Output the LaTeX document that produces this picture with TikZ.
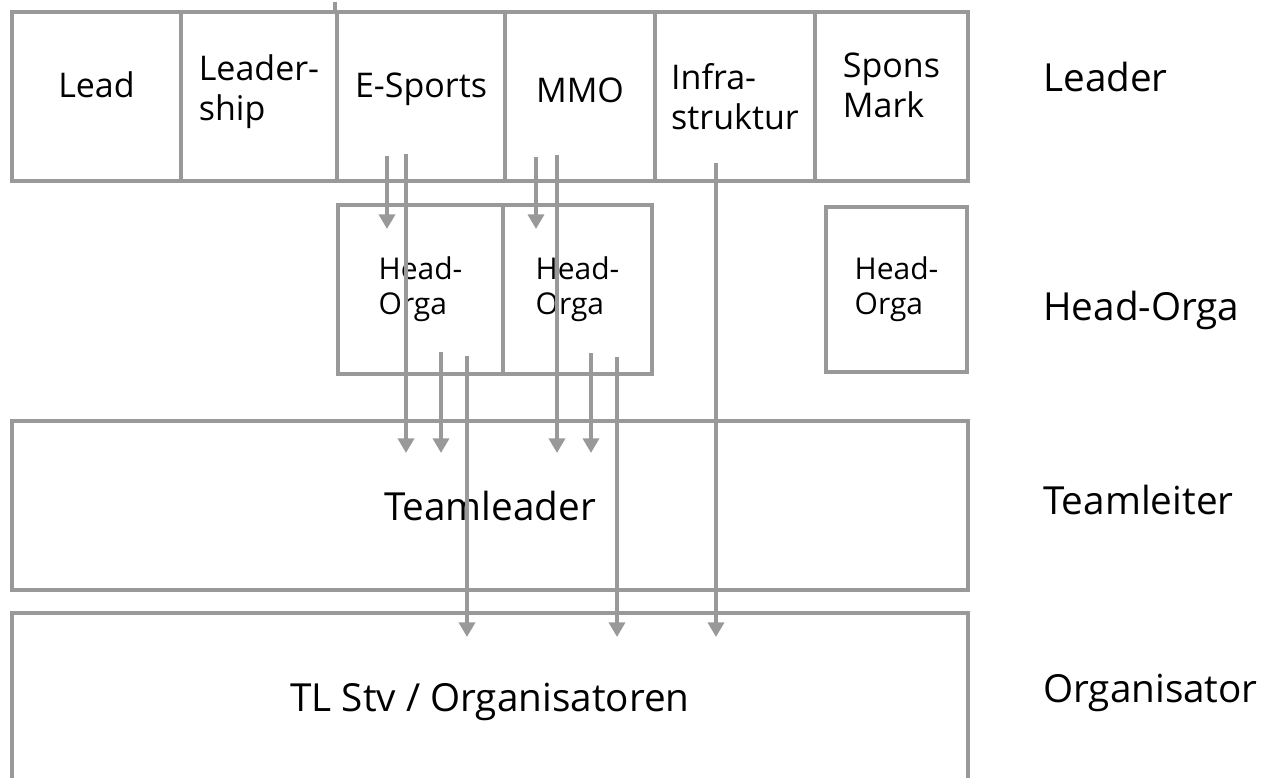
\documentclass[tikz,border=0pt]{standalone}
\usepackage{fontspec}
\setmainfont{Open Sans}
\usetikzlibrary{arrows.meta}
\definecolor{framegray}{RGB}{153,153,153}

\begin{document}
\begin{tikzpicture}[
  x=0.75pt, y=-0.75pt,
  box/.style={draw=framegray,line width=3pt,inner sep=0pt,align=left},
  cell/.style 2 args={box,minimum width=#1*0.75pt,minimum height=#2*0.75pt,font=\fontsize{25.5}{30}\selectfont},
  hobox/.style 2 args={box,minimum width=#1*0.75pt,minimum height=#2*0.75pt,font=\fontsize{22.5}{26}\selectfont},
  tier/.style 2 args={box,minimum width=#1*0.75pt,minimum height=#2*0.75pt,font=\fontsize{29}{34}\selectfont},
  level/.style={anchor=west,inner sep=0pt,font=\fontsize{29}{34}\selectfont},
  flow/.style={draw=framegray,line width=3pt,-{Triangle[width=12pt,length=11pt]}}
]
  \useasboundingbox (0,0) rectangle (1279,778);
  % Leader row
  \node[cell={169}{169},text depth=18pt] (lead) at (96.5,96.5) {Lead};
  \node[cell={156}{169},text depth=13.5pt] (leadship) at (259,96.5) {Leader-\\ship};
  \node[cell={168}{169},text depth=16.5pt] (esports) at (421,96.5) {E-Sports};
  \node[cell={150}{169},text depth=9pt] (mmo) at (580,96.5) {MMO};
  \node[cell={160}{169}] (infra) at (735,96.5) {Infra-\\struktur};
  \node[cell={153}{169},text depth=16.5pt] (spons) at (891.5,96.5) {Spons\\Mark};
  \draw[draw=framegray,line width=3pt] (esports.north west) -- ++(0,-8);
  % Head-Orga row
  \node[hobox={165}{169}] (ho1) at (420.5,289.5) {Head-\\Orga};
  \node[hobox={149}{169}] (ho2) at (577.5,289.5) {Head-\\Orga};
  \node[hobox={141}{165}] (ho3) at (896.5,289.5) {Head-\\Orga};
  % Teamleader and Organisator
  \node[tier={956}{169}] (team) at (490,505.5) {Teamleader};
  \node[tier={956}{200},label={[font=\fontsize{29}{34}\selectfont,yshift=8.25pt]center:TL Stv / Organisatoren}] (orga) at (490,713) {};
  % level names
  \node[level] (lvlLeader) at (1043,77) {Leader};
  \node[level] (lvlHead) at (1043,310) {Head-Orga};
  \node[level] (lvlTeam) at (1043,500) {Teamleiter};
  \node[level] (lvlOrga) at (1043,693) {Organisator};
  % arrows
  \coordinate (hoIn) at (0,229);
  \coordinate (teamIn) at (0,453);
  \coordinate (orgaIn) at (0,637);
  \coordinate (esA) at (387,156);
  \coordinate (esB) at (406,154);
  \coordinate (hoA) at (441,352);
  \coordinate (hoB) at (467,356);
  \coordinate (mmoA) at (536,157);
  \coordinate (mmoB) at (557,155);
  \coordinate (hoC) at (591,353);
  \coordinate (hoD) at (617,357);
  \coordinate (infraA) at (716,163);
  \foreach \src/\dst in {esA/hoIn, esB/teamIn, hoA/teamIn, hoB/orgaIn,
    mmoA/hoIn, mmoB/teamIn, hoC/teamIn, hoD/orgaIn, infraA/orgaIn}
    \draw[flow] (\src) -- (\src |- \dst);
\end{tikzpicture}
\end{document}
